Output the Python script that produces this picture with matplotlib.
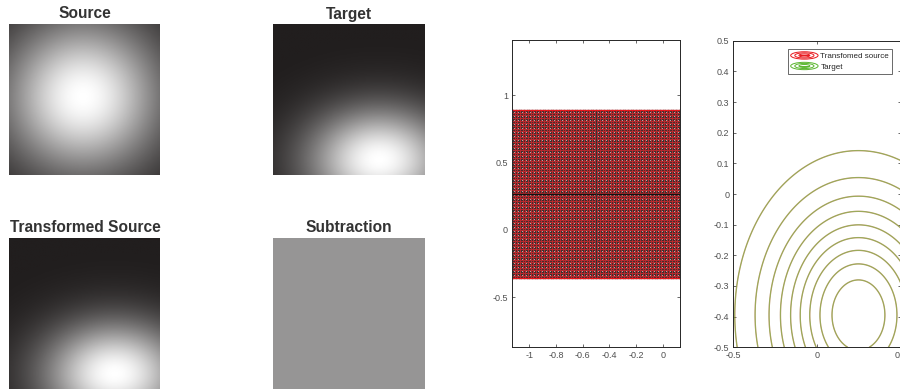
import numpy as np
import matplotlib
matplotlib.use("Agg")
import matplotlib.pyplot as plt
from matplotlib.colors import LinearSegmentedColormap
from matplotlib.patches import Ellipse
from matplotlib.legend_handler import HandlerBase
from matplotlib.lines import Line2D

plt.rcParams['font.family'] = ['Liberation Sans', 'DejaVu Sans']

# ---- image panels: Gaussian intensity blobs on a [-0.5, 0.5] square ----
panel_titles = ["Source", "Target", "Transformed Source", "Subtraction"]
source_center = (-0.01, 0.02)     # (x, y)
source_sigma = (0.37, 0.36)
target_center = (0.20, -0.40)
target_sigma = (0.33, 0.24)
subtraction_level = 0.53          # uniform residual gray

# ---- mesh panel: original grid (black) and transformed grid (red) ----
mesh_x_range = (-1.13, 0.13)
mesh_y_range = (-0.36, 0.89)
mesh_lines = 64
mesh_xticks = [-1, -0.8, -0.6, -0.4, -0.2, 0]
mesh_yticks = [-0.5, 0, 0.5, 1]

# ---- contour panel ----
contour_center = (0.245, -0.395)
contour_sigma = (0.343, 0.25)
contour_levels = [0.1, 0.2, 0.3, 0.4, 0.5, 0.6, 0.7, 0.8, 0.9]
contour_xticks = [-0.5, 0, 0.5]
contour_yticks = [-0.5, -0.4, -0.3, -0.2, -0.1, 0, 0.1, 0.2, 0.3, 0.4, 0.5]
legend_labels = ["Transfomed source", "Target"]


def gaussian(x, y, center, sigma):
    return np.exp(-((x - center[0]) ** 2 / (2 * sigma[0] ** 2)
                    + (y - center[1]) ** 2 / (2 * sigma[1] ** 2)))


W, H = 900, 389
fig = plt.figure(figsize=(W / 100, H / 100), dpi=100)
fig.patch.set_facecolor("white")

gray = LinearSegmentedColormap.from_list("g", ["#211e1e", "#ffffff"])

n = 200
u = np.linspace(-0.5, 0.5, n)
X, Y = np.meshgrid(u, -u)   # image rows run from top (+0.5) to bottom (-0.5)
images = [
    gaussian(X, Y, source_center, source_sigma),
    gaussian(X, Y, target_center, target_sigma),
    gaussian(X, Y, target_center, target_sigma),
    np.full_like(X, subtraction_level),
]


def fr(x0, y0, x1, y1):
    return [x0 / W, 1 - y1 / H, (x1 - x0) / W, (y1 - y0) / H]


boxes = [fr(9, 24, 160, 175), fr(273, 24, 424, 175),
         fr(9, 238, 160, 389), fr(273, 238, 424, 389)]
title_pos = [(85, 14), (349, 14), (85, 228), (349, 228)]
for img, box, title, (tx, ty) in zip(images, boxes, panel_titles, title_pos):
    ax = fig.add_axes(box)
    ax.imshow(img, cmap=gray, vmin=0, vmax=1, aspect="auto",
              interpolation="bilinear")
    ax.set_axis_off()
    fig.text(tx / W, 1 - ty / H, title, ha="center", va="center",
             fontsize=11.2, fontweight="bold", color="#333333")

tick_color = "#505050"


def matlab_axes(ax):
    for s in ax.spines.values():
        s.set_color("#262626")
        s.set_linewidth(0.7)
    ax.tick_params(direction="in", length=2.5, width=0.6, colors=tick_color,
                   labelsize=6.5, top=True, right=True, pad=3)


# ---- mesh panel ----
ax2 = fig.add_axes(fr(512, 40, 680, 347))
xs = np.linspace(*mesh_x_range, mesh_lines)
ys = np.linspace(*mesh_y_range, mesh_lines)
dx = (xs[1] - xs[0]) / 2
dy = (ys[1] - ys[0]) / 2
for x in xs[:-1] + dx:
    ax2.plot([x, x], mesh_y_range, color="#303030", lw=1.0)
for y in ys[:-1] + dy:
    ax2.plot(mesh_x_range, [y, y], color="#303030", lw=1.0)
for x in xs:
    ax2.plot([x, x], mesh_y_range, color="#b52a2e", lw=0.8)
for y in ys:
    ax2.plot(mesh_x_range, [y, y], color="#b52a2e", lw=0.8)
mid_x = sum(mesh_x_range) / 2
mid_y = sum(mesh_y_range) / 2
ax2.plot(mesh_x_range, [mid_y, mid_y], color="#111111", lw=1.0)
ax2.plot([mid_x, mid_x], mesh_y_range, color="#333333", lw=0.8)
ax2.plot(mesh_x_range, [mesh_y_range[0]] * 2, color="#e8161b", lw=0.9)
ax2.plot(mesh_x_range, [mesh_y_range[1]] * 2, color="#e8161b", lw=0.9)
ax2.set_xlim(-1.13, 0.13)
ax2.set_ylim(-0.87, 1.41)
ax2.set_xticks(mesh_xticks)
ax2.set_xticklabels(["-1", "-0.8", "-0.6", "-0.4", "-0.2", "0"])
ax2.set_yticks(mesh_yticks)
ax2.set_yticklabels(["-0.5", "0", "0.5", "1"])
matlab_axes(ax2)

# ---- contour panel ----
ax3 = fig.add_axes(fr(733.3, 40.7, 901.3, 347.3))
g = np.linspace(-0.5, 0.5, 400)
CX, CY = np.meshgrid(g, g)
Z = gaussian(CX, CY, contour_center, contour_sigma)
ax3.contour(CX, CY, Z, levels=contour_levels, colors="#d9342c",
            linewidths=0.95, alpha=0.5)
ax3.contour(CX, CY, Z, levels=contour_levels, colors="#6db83a",
            linewidths=0.95, alpha=0.45)
ax3.contour(CX, CY, Z, levels=contour_levels, colors="#5ab42a",
            linewidths=0.25, alpha=0.7)
ax3.set_xlim(-0.5, 0.5)
ax3.set_ylim(-0.5, 0.5)
ax3.set_xticks(contour_xticks)
ax3.set_xticklabels(["-0.5", "0", "0.5"])
ax3.set_yticks(contour_yticks)
ax3.set_yticklabels(["-0.5", "-0.4", "-0.3", "-0.2", "-0.1", "0",
                     "0.1", "0.2", "0.3", "0.4", "0.5"])
matlab_axes(ax3)


class ContourIcon(HandlerBase):
    def create_artists(self, legend, orig_handle, xdescent, ydescent,
                       width, height, fontsize, trans):
        c = orig_handle.get_color()
        cx = width / 2 - xdescent
        cy = height / 2 - ydescent
        arts = []
        for k in (1.0, 0.7, 0.4):
            e = Ellipse((cx, cy), width * k, height * 1.1 * k, fill=False,
                        edgecolor=c, lw=0.7, transform=trans)
            arts.append(e)
        ln = Line2D([cx - width * 0.15, cx + width * 0.15], [cy, cy],
                    color=c, lw=0.7, transform=trans)
        arts.append(ln)
        return arts


h1 = Line2D([], [], color="#e8161b")
h2 = Line2D([], [], color="#58b52c")
leg = ax3.legend([h1, h2], legend_labels, handler_map={Line2D: ContourIcon()},
                 loc="upper right", bbox_to_anchor=(0.945, 0.972),
                 fontsize=5.8, frameon=True, fancybox=False,
                 handlelength=3.4, handleheight=0.9, handletextpad=0.3,
                 borderpad=0.35, labelspacing=0.3, borderaxespad=0)
leg.get_frame().set_edgecolor("#262626")
leg.get_frame().set_linewidth(0.6)
for t in leg.get_texts():
    t.set_color("#262626")

fig.savefig("out.png", dpi=100, facecolor="white")
